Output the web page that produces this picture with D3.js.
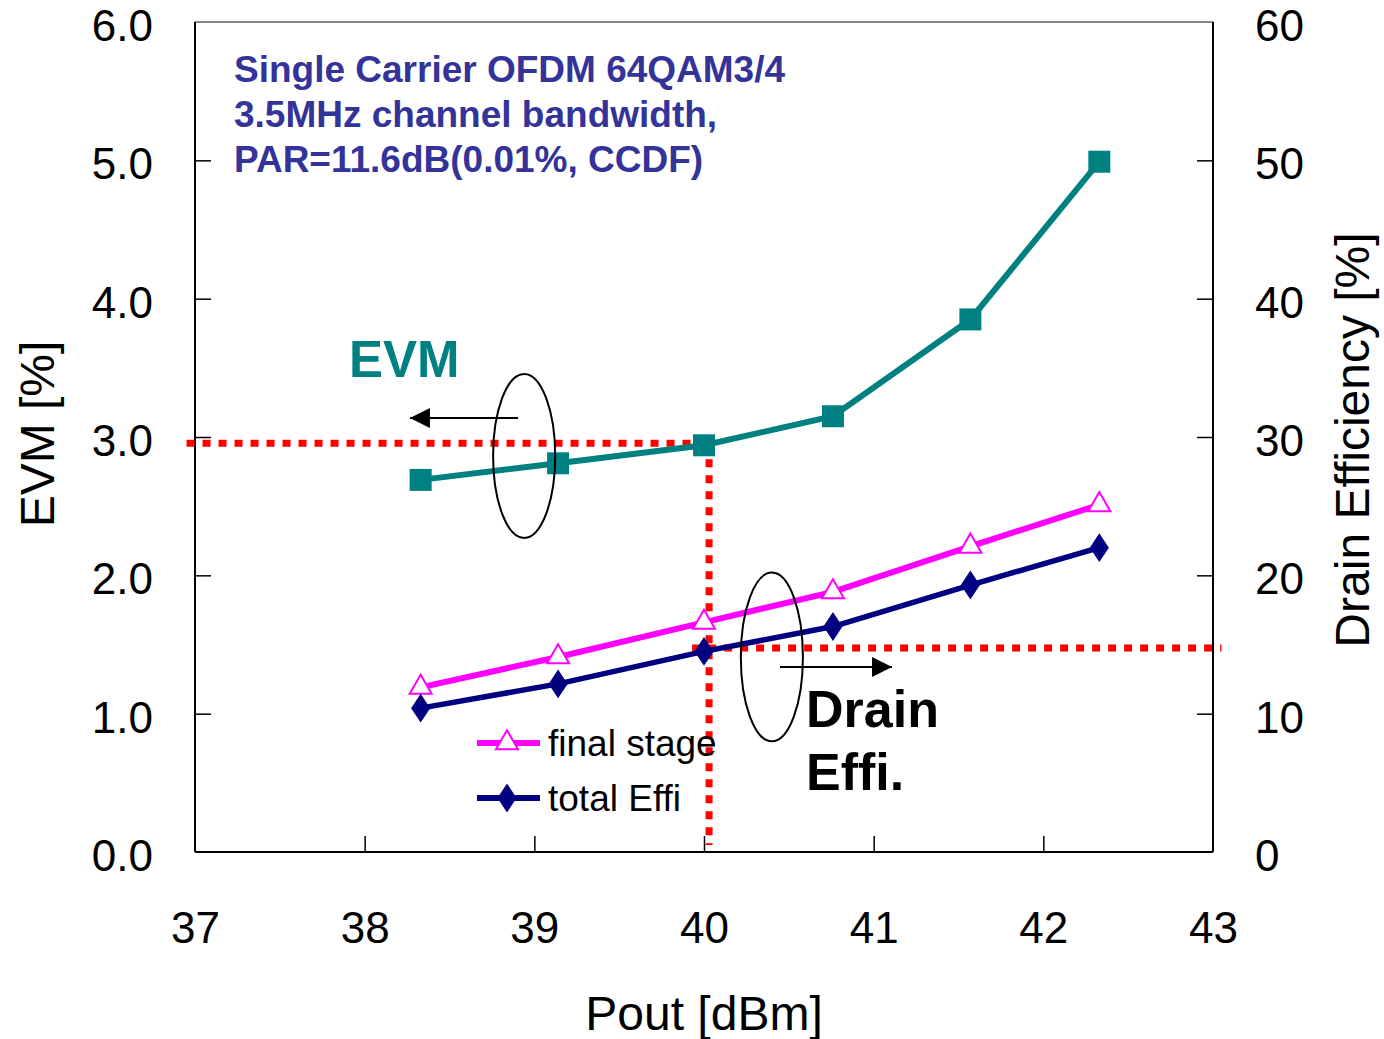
<!DOCTYPE html>
<html>
<head>
<meta charset="utf-8">
<script src="https://cdn.jsdelivr.net/npm/d3@7/dist/d3.min.js"></script>
<style>
  body { margin: 0; background: #fff; }
  svg text { font-family: "Liberation Sans", Arial, sans-serif; }
</style>
</head>
<body>
<svg id="chart" width="1384" height="1039"></svg>
<script>
// data
var pout = [38.33, 39.14, 40.0, 40.76, 41.57, 42.33];
var evm = [2.69, 2.81, 2.94, 3.15, 3.85, 4.99];
var finalStage = [11.9, 14.1, 16.6, 18.8, 22.1, 25.1];
var totalEffi = [10.4, 12.15, 14.5, 16.3, 19.3, 22.0];

var xTicks = [37, 38, 39, 40, 41, 42, 43];
var evmTicks = [0, 1, 2, 3, 4, 5, 6];
var deTicks = [0, 10, 20, 30, 40, 50, 60];

var noteLines = ["Single Carrier OFDM 64QAM3/4", "3.5MHz channel bandwidth,", "PAR=11.6dB(0.01%, CCDF)"];
var legendItems = [
  { name: "final stage", color: "#ff00ff", marker: "triangle" },
  { name: "total Effi", color: "#000080", marker: "diamond" }
];

// operating point guides
var opEvm = 2.955, opPout = 40.03, opDe = 14.75;

function drawChart() {
  var svg = d3.select("#chart");
  var mLeft = 195, mRight = 1213, mTop = 22, mBottom = 852;

  var x = d3.scaleLinear().domain([37, 43]).range([mLeft, mRight]);
  var yL = d3.scaleLinear().domain([0, 6]).range([mBottom, mTop]);
  var yR = d3.scaleLinear().domain([0, 60]).range([mBottom, mTop]);

  // frame
  svg.append("line").attr("x1", mLeft).attr("x2", mRight).attr("y1", mTop).attr("y2", mTop)
    .attr("stroke", "#888").attr("stroke-width", 2);
  svg.append("line").attr("x1", mLeft).attr("x2", mRight).attr("y1", mBottom).attr("y2", mBottom)
    .attr("stroke", "#000").attr("stroke-width", 2);
  svg.append("line").attr("x1", mLeft).attr("x2", mLeft).attr("y1", mTop).attr("y2", mBottom)
    .attr("stroke", "#000").attr("stroke-width", 2);
  svg.append("line").attr("x1", mRight).attr("x2", mRight).attr("y1", mTop).attr("y2", mBottom)
    .attr("stroke", "#000").attr("stroke-width", 2);

  // axes (ticks point inward)
  var xAxis = d3.axisBottom(x).tickValues(xTicks).tickFormat(d3.format("d")).tickSize(-16).tickPadding(60);
  var gx = svg.append("g").attr("transform", "translate(0," + mBottom + ")").call(xAxis);

  var yAxisL = d3.axisLeft(yL).tickValues(evmTicks).tickFormat(d3.format(".1f")).tickSize(-16).tickPadding(42);
  var gl = svg.append("g").attr("transform", "translate(" + mLeft + ",0)").call(yAxisL);

  var yAxisR = d3.axisRight(yR).tickValues(deTicks).tickFormat(d3.format("d")).tickSize(-16).tickPadding(42);
  var gr = svg.append("g").attr("transform", "translate(" + mRight + ",0)").call(yAxisR);

  [gx, gl, gr].forEach(function(g) {
    g.select(".domain").remove();
    g.selectAll(".tick line").attr("stroke", "#000").attr("stroke-width", 1.5);
    g.selectAll(".tick text").attr("fill", "#000").style("font-size", "44px");
  });
  gl.selectAll(".tick text").attr("dy", "0.42em");
  gr.selectAll(".tick text").attr("dy", "0.42em");
  gx.selectAll(".tick line").filter(function(d) { return d == 37 || d == 43; }).remove();
  gl.selectAll(".tick line").filter(function(d) { return d == 0 || d == 6; }).remove();
  gr.selectAll(".tick line").filter(function(d) { return d == 0 || d == 60; }).remove();

  // axis titles
  svg.append("text").attr("x", (mLeft + mRight) / 2).attr("y", 1030).attr("text-anchor", "middle")
    .style("font-size", "48px").text("Pout [dBm]");
  svg.append("text").attr("transform", "translate(54,434) rotate(-90)").attr("text-anchor", "middle")
    .style("font-size", "48px").text("EVM [%]");
  svg.append("text").attr("transform", "translate(1369,440) rotate(-90)").attr("text-anchor", "middle")
    .style("font-size", "48px").text("Drain Efficiency [%]");

  // red dotted guides
  function guide(x1, y1, x2, y2) {
    svg.append("line").attr("x1", x1).attr("y1", y1).attr("x2", x2).attr("y2", y2)
      .attr("stroke", "#ff0000").attr("stroke-width", 7).attr("stroke-dasharray", "8,8");
  }
  guide(x(36.95), yL(opEvm), x(opPout), yL(opEvm));
  guide(x(opPout), yL(opEvm), x(opPout), yL(0.05));
  guide(x(39.93), yR(opDe), x(43.05), yR(opDe));

  // series lines
  var lineEvm = d3.line().x(function(d, i) { return x(pout[i]); }).y(function(d) { return yL(d); });
  var lineDe = d3.line().x(function(d, i) { return x(pout[i]); }).y(function(d) { return yR(d); });

  svg.append("path").datum(evm).attr("d", lineEvm).attr("fill", "none").attr("stroke", "#008080").attr("stroke-width", 6);
  svg.append("path").datum(finalStage).attr("d", lineDe).attr("fill", "none").attr("stroke", "#ff00ff").attr("stroke-width", 6);
  svg.append("path").datum(totalEffi).attr("d", lineDe).attr("fill", "none").attr("stroke", "#000080").attr("stroke-width", 5.5);

  // markers
  var sq = d3.symbol().type(d3.symbolSquare).size(22 * 22);
  var tri = d3.symbol().type(d3.symbolTriangle).size(210);
  var dia = d3.symbol().type(d3.symbolDiamond).size(240);

  svg.selectAll(".evmPt").data(evm).enter().append("path")
    .attr("d", sq).attr("transform", function(d, i) { return "translate(" + x(pout[i]) + "," + yL(d) + ")"; })
    .attr("fill", "#008080");
  svg.selectAll(".fsPt").data(finalStage).enter().append("path")
    .attr("d", tri).attr("transform", function(d, i) { return "translate(" + x(pout[i]) + "," + yR(d) + ")"; })
    .attr("fill", "#fff").attr("stroke", "#ff00ff").attr("stroke-width", 2);
  svg.selectAll(".tePt").data(totalEffi).enter().append("path")
    .attr("d", dia).attr("transform", function(d, i) { return "translate(" + x(pout[i]) + "," + yR(d) + ") scale(1.15,1)"; })
    .attr("fill", "#000080");

  // note block
  svg.append("g").selectAll("text").data(noteLines).enter().append("text")
    .attr("x", 234).attr("y", function(d, i) { return 82 + i * 45; })
    .attr("fill", "#333399").style("font-size", "37px").style("font-weight", "bold")
    .text(function(d) { return d; });

  // ellipses and arrows
  svg.append("ellipse").attr("cx", x(38.94)).attr("cy", yL(2.863))
    .attr("rx", x(38.94 + 0.183) - x(38.94)).attr("ry", yL(0) - yL(0.593))
    .attr("fill", "none").attr("stroke", "#000").attr("stroke-width", 2);
  svg.append("ellipse").attr("cx", x(40.4)).attr("cy", yR(14.1))
    .attr("rx", x(40.4 + 0.183) - x(40.4)).attr("ry", yR(0) - yR(6.1))
    .attr("fill", "none").attr("stroke", "#000").attr("stroke-width", 2);

  svg.append("defs").append("marker").attr("id", "head")
    .attr("viewBox", "0 0 10 10").attr("refX", 10).attr("refY", 5)
    .attr("markerWidth", 22).attr("markerHeight", 20).attr("markerUnits", "userSpaceOnUse")
    .attr("orient", "auto")
    .append("path").attr("d", "M0,0L10,5L0,10Z").attr("fill", "#000");

  svg.append("line").attr("x1", x(38.904)).attr("x2", x(38.267)).attr("y1", yL(3.137)).attr("y2", yL(3.137))
    .attr("stroke", "#000").attr("stroke-width", 2).attr("marker-end", "url(#head)");
  svg.append("line").attr("x1", x(40.448)).attr("x2", x(41.108)).attr("y1", yR(13.37)).attr("y2", yR(13.37))
    .attr("stroke", "#000").attr("stroke-width", 2).attr("marker-end", "url(#head)");

  // big labels
  svg.append("text").attr("x", 349).attr("y", 377).attr("fill", "#008080")
    .style("font-size", "51px").style("font-weight", "bold").text("EVM");
  svg.append("text").attr("x", 806).attr("y", 727).attr("fill", "#000")
    .style("font-size", "52px").style("font-weight", "bold").text("Drain");
  svg.append("text").attr("x", 806).attr("y", 790).attr("fill", "#000")
    .style("font-size", "52px").style("font-weight", "bold").text("Effi.");

  // legend
  var leg = svg.append("g").attr("transform", "translate(477,743)");
  var li = leg.selectAll("g").data(legendItems).enter().append("g")
    .attr("transform", function(d, i) { return "translate(0," + i * 55 + ")"; });
  li.append("line").attr("x1", 0).attr("x2", 63).attr("stroke", function(d) { return d.color; }).attr("stroke-width", 6);
  li.append("path").attr("d", function(d) { return d.marker == "triangle" ? tri() : dia(); })
    .attr("transform", function(d) { return "translate(30,0)" + (d.marker == "diamond" ? " scale(1.15,1)" : ""); })
    .attr("fill", function(d) { return d.marker == "triangle" ? "#fff" : d.color; })
    .attr("stroke", function(d) { return d.marker == "triangle" ? d.color : "none"; })
    .attr("stroke-width", 2);
  li.append("text").attr("x", 71).attr("y", 13).style("font-size", "37px").attr("fill", "#000")
    .text(function(d) { return d.name; });
}

drawChart();
</script>
</body>
</html>
